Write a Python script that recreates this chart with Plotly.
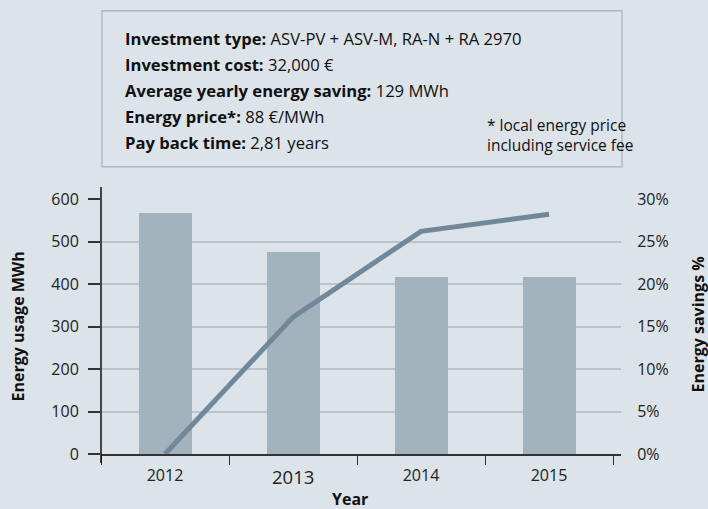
import plotly.graph_objects as go

# ---- data ----
years = ["2012", "2013", "2014", "2015"]
usage_mwh = [567, 475, 416, 416]
savings_pct = [0, 16.1, 26.2, 28.2]
y_ticks = [0, 100, 200, 300, 400, 500, 600]
y2_ticks = [0, 5, 10, 15, 20, 25, 30]
y2_labels = ["0%", "5%", "10%", "15%", "20%", "25%", "30%"]
big_year = "2013"  # drawn in a larger type in the original

info_lines = [
    ("Investment type:", "ASV-PV + ASV-M, RA-N + RA 2970"),
    ("Investment cost:", "32,000 €"),
    ("Average yearly energy saving:", "129 MWh"),
    ("Energy price*:", "88 €/MWh"),
    ("Pay back time:", "2,81 years"),
]
footnote = "* local energy price<br>including service fee"

# ---- layout geometry (pixels) ----
W, H = 708, 509
L, R, T, B = 101, 621, 199, 454
CAT_W = 128  # px per category
BG = "#dce3e9"
FONT = "Open Sans"


def px_x(px):
    return (px - L) / (R - L)


def px_y(py):
    return (B - py) / (B - T)


fig = go.Figure()
fig.add_trace(go.Bar(
    x=years, y=usage_mwh, marker=dict(color="#a3b3bd", line=dict(width=0)),
    width=0.414, yaxis="y", showlegend=False,
))
fig.add_trace(go.Scatter(
    x=years, y=savings_pct, mode="lines", yaxis="y2",
    line=dict(color="#71889a", width=5), showlegend=False,
))

shapes = [
    dict(type="line", xref="paper", yref="paper", x0=0, x1=0,
         y0=px_y(463), y1=px_y(187), line=dict(color="#111", width=1.5)),
    dict(type="rect", xref="paper", yref="paper", x0=px_x(102), x1=px_x(622),
         y0=px_y(166.7), y1=px_y(10.7), line=dict(color="#aebac3", width=1.5),
         fillcolor=BG, layer="below"),
]

annotations = []
centers = [38.5, 64.5, 90.5, 116.5, 143]
for (bold, rest), cy in zip(info_lines, centers):
    annotations.append(dict(
        xref="paper", yref="paper", x=px_x(123), y=px_y(cy),
        xanchor="left", yanchor="middle", showarrow=False,
        text=f"<b>{bold}</b> {rest}", font=dict(family=FONT, size=16.6, color="#111"),
    ))
annotations.append(dict(
    xref="paper", yref="paper", x=px_x(485), y=px_y(135),
    xanchor="left", yanchor="middle", showarrow=False, align="left",
    text=footnote, font=dict(family=FONT, size=15.5, color="#111"),
))
annotations.append(dict(
    xref="paper", yref="paper", x=px_x(17), y=px_y(326.5),
    xanchor="center", yanchor="middle", showarrow=False, textangle=-90,
    text="<b>Energy usage MWh</b>", font=dict(family=FONT, size=16, color="#111"),
))
annotations.append(dict(
    xref="paper", yref="paper", x=px_x(697), y=px_y(324.5),
    xanchor="center", yanchor="middle", showarrow=False, textangle=-90,
    text="<b>Energy savings %</b>", font=dict(family=FONT, size=16, color="#111"),
))
annotations.append(dict(
    xref="paper", yref="paper", x=px_x(350), y=px_y(512),
    xanchor="center", yanchor="bottom", showarrow=False,
    text="<b>Year</b>", font=dict(family=FONT, size=16, color="#111"),
))
# larger 2013 label under its category
big_idx = years.index(big_year)
annotations.append(dict(
    xref="paper", yref="paper", x=px_x(L + (big_idx + 0.5) * CAT_W), y=px_y(476),
    xanchor="center", yanchor="middle", showarrow=False,
    text=big_year, font=dict(family=FONT, size=18.5, color="#222"),
))
year_labels = ["" if y == big_year else y for y in years]

tick_font = dict(family=FONT, size=16, color="#222")
fig.update_layout(
    width=W, height=H,
    margin=dict(l=L, r=W - R, t=T, b=H - B, pad=0),
    paper_bgcolor=BG, plot_bgcolor=BG,
    font=dict(family=FONT, size=16, color="#222"),
    bargap=0,
    xaxis=dict(
        type="category", range=[-0.5, 3.5625], tickmode="array",
        tickvals=years, ticktext=year_labels, tickson="boundaries",
        ticks="outside", ticklen=9, tickwidth=1.3, tickcolor="#333",
        showline=True, linecolor="#333", linewidth=1.5, showgrid=False,
        tickfont=tick_font, fixedrange=True, ticklabelstandoff=6,
    ),
    yaxis=dict(
        range=[0, 600], tickmode="array", tickvals=y_ticks,
        ticks="outside", ticklen=12, tickwidth=1.5, tickcolor="#333",
        showgrid=True, gridcolor="#b8c5ce", gridwidth=1.5, zeroline=False,
        showline=False, tickfont=tick_font, ticklabelstandoff=6,
    ),
    yaxis2=dict(
        range=[0, 30], overlaying="y", side="right", tickmode="array",
        tickvals=y2_ticks, ticktext=y2_labels, showgrid=False, zeroline=False,
        showline=False, ticks="outside", ticklen=12, tickcolor="rgba(0,0,0,0)",
        tickfont=tick_font,
    ),
    shapes=shapes,
    annotations=annotations,
)

fig.write_html(
    "out.html",
    config={"displayModeBar": False},
    post_script="document.body.style.margin='0';document.body.style.padding='0';",
)
